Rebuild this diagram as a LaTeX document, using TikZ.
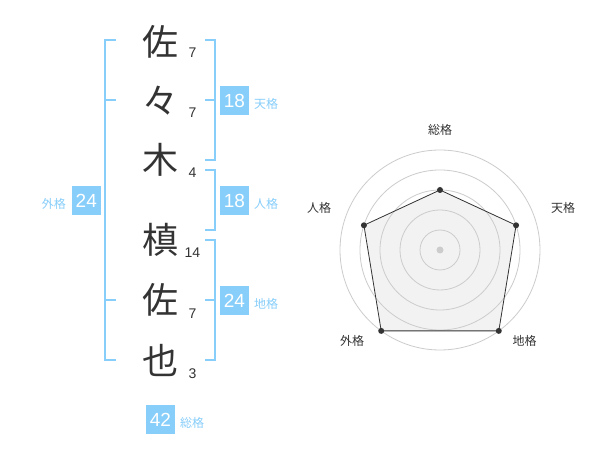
\documentclass[tikz,border=0pt]{standalone}
\usepackage{fontspec}
\setmainfont{Liberation Sans}
\newfontfamily\cjk{Noto Sans CJK JP}
\definecolor{skyb}{RGB}{135,206,250}
\definecolor{darktxt}{RGB}{51,51,51}
\definecolor{ringc}{RGB}{204,204,204}
\definecolor{polyfill}{RGB}{242,242,242}
\tikzset{
  kanji/.style={inner sep=0pt, anchor=base, text=darktxt, font=\cjk\fontsize{36}{36}\selectfont},
  strokes/.style={inner sep=0pt, anchor=base, text=darktxt, font=\fontsize{14}{14}\selectfont},
  bracket/.style={draw=skyb, line width=2pt},
  numbox/.style={fill=skyb, minimum width=29pt, minimum height=29pt, inner sep=0pt, text=white, font=\fontsize{19}{19}\selectfont},
  kaku/.style={inner sep=0pt, text=skyb, font=\cjk\fontsize{12}{12}\selectfont},
  ring/.style={draw=ringc, line width=0.8pt},
  radarlab/.style={inner sep=0pt, text=darktxt, font=\cjk\fontsize{12}{12}\selectfont},
  vdot/.style={circle, fill=darktxt, inner sep=0pt, minimum size=6pt}
}
\begin{document}
\begin{tikzpicture}[x=1pt,y=-1pt]
\useasboundingbox[fill=white] (0,0) rectangle (600,470);
% characters
\node[kanji] (c1) at (160,55.7) {佐};
\node[kanji] (c2) at (160,115) {々};
\node[kanji] (c3) at (160,173.7) {木};
\node[kanji] (c4) at (160,253.7) {槙};
\node[kanji] (c5) at (160,313.7) {佐};
\node[kanji] (c6) at (160,374.5) {也};
% stroke counts
\node[strokes] (s1) at (192.5,57.3) {7};
\node[strokes] (s2) at (192.5,117.7) {7};
\node[strokes] (s3) at (192.5,177.7) {4};
\node[strokes] (s4) at (192.5,257.7) {14};
\node[strokes] (s5) at (192.5,318.3) {7};
\node[strokes] (s6) at (192.5,378.3) {3};
% brackets
\draw[bracket] (205,40) -- (215,40) -- (215,160) -- (205,160);
\draw[bracket] (205,100) -- (215,100);
\draw[bracket] (205,170) -- (215,170) -- (215,230) -- (205,230);
\draw[bracket] (205,240) -- (215,240) -- (215,360) -- (205,360);
\draw[bracket] (205,300) -- (215,300);
\draw[bracket] (116,40) -- (105,40) -- (105,360) -- (116,360);
\draw[bracket] (105,100) -- (116,100);
\draw[bracket] (105,300) -- (116,300);
% number boxes
\node[numbox] (b1) at (234.5,100.5) {18};
\node[kaku, anchor=west] (k1) at (254,104) {天格};
\node[numbox] (b2) at (234.5,200.5) {18};
\node[kaku, anchor=west] (k2) at (254,204) {人格};
\node[numbox] (b3) at (234.5,300.5) {24};
\node[kaku, anchor=west] (k3) at (254,304) {地格};
\node[numbox] (b4) at (86.3,200.5) {24};
\node[kaku, anchor=east] (k4) at (66,204) {外格};
\node[numbox] (b5) at (160.5,419.5) {42};
\node[kaku, anchor=west] (k5) at (180,423) {総格};
% radar
\coordinate (rc) at (440,250);
\coordinate (p1) at (440,190);
\coordinate (p2) at (516.08,225.28);
\coordinate (p3) at (498.78,330.90);
\coordinate (p4) at (381.22,330.90);
\coordinate (p5) at (363.92,225.28);
\fill[polyfill] (p1) -- (p2) -- (p3) -- (p4) -- (p5) -- cycle;
\foreach \r in {20,40,60,80,100} \draw[ring] (rc) circle[radius=\r];
\draw[darktxt, line width=0.8pt] (p1) -- (p2) -- (p3) -- (p4) -- (p5) -- cycle;
\fill[ringc] (rc) circle[radius=3.5];
\foreach \p in {p1,p2,p3,p4,p5} \node[vdot] at (\p) {};
\node[radarlab] (l1) at (440,130) {総格};
\node[radarlab] (l2) at (563,208) {天格};
\node[radarlab] (l3) at (524.5,341) {地格};
\node[radarlab] (l4) at (352,341) {外格};
\node[radarlab] (l5) at (319,208) {人格};
\end{tikzpicture}
\end{document}
